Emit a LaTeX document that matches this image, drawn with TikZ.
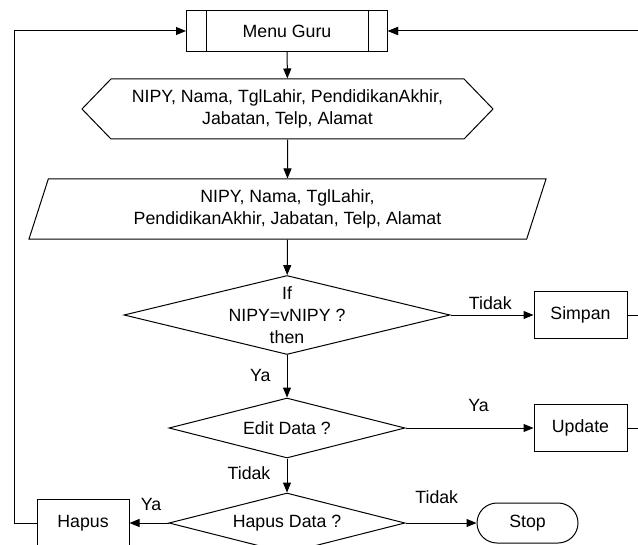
\documentclass[tikz,border=0pt]{standalone}
\usepackage{fontspec}
\setmainfont{Liberation Sans}
\usetikzlibrary{shapes.geometric,shapes.symbols,shapes.misc,arrows.meta}

\begin{document}
\begin{tikzpicture}[x=0.75pt,y=-0.75pt,
  font=\fontsize{13.3}{16.5}\selectfont,
  line width=0.75pt,
  proc/.style={draw, rectangle, inner sep=0pt, minimum width=150.75pt, minimum height=30.75pt},
  prep/.style={draw, signal, signal to=west and east, signal pointer angle=92,
    inner sep=0pt, align=center, minimum width=308.25pt, minimum height=45pt},
  io/.style={draw, trapezium, trapezium left angle=63.4, trapezium right angle=116.6,
    trapezium stretches body, inner sep=0pt, align=center, minimum width=387.75pt, minimum height=45pt},
  decide/.style={draw, diamond, inner sep=0pt},
  task/.style={draw, rectangle, inner sep=0pt, minimum width=69.75pt, minimum height=35pt},
  term/.style={draw, rounded rectangle, inner sep=0pt, minimum width=75.75pt, minimum height=30pt},
  lbl/.style={inner sep=0pt},
  arr/.style={-{Triangle[length=7.5pt,width=6pt]}}]

  \useasboundingbox (0,0) rectangle (638,545);
  \clip (0,0) rectangle (638,545);

  % boxes
  \node[proc] (mg) at (287,31) {Menu Guru};
  \draw ([xshift=15pt]mg.north west) -- ([xshift=15pt]mg.south west);
  \draw ([xshift=-15pt]mg.north east) -- ([xshift=-15pt]mg.south east);

  \node[prep] (hex) at (287.5,109) {NIPY, Nama, TglLahir, PendidikanAkhir,\\Jabatan, Telp, Alamat};
  \node[io] (inp) at (287.5,209) {NIPY, Nama, TglLahir,\\PendidikanAkhir, Jabatan, Telp, Alamat};

  \node[decide, minimum width=244.5pt, minimum height=59.25pt,
    label={[align=center]center:If\\NIPY=vNIPY ?\\then}] (cek) at (287,315) {};
  \node[task] (simpan) at (580.5,315) {Simpan};

  \node[decide, minimum width=177pt, minimum height=45pt,
    label={center:Edit Data ?}] (edit) at (287,428) {};
  \node[task] (update) at (580.5,428) {Update};

  \node[decide, minimum width=177pt, minimum height=45pt,
    label={center:Hapus Data ?}] (hps) at (287,523) {};
  \node[task, minimum width=69pt, minimum height=36pt] (hapus) at (83,523) {Hapus};
  \node[term] (stop) at (527.5,523) {Stop};

  \coordinate (kanan) at (650,31);
  \coordinate (kiri) at (14,31);

  % alur
  \draw[arr] (mg) -- (hex);
  \draw[arr] (hex) -- (inp);
  \draw[arr] (inp) -- (cek);
  \draw[arr] (cek.east) -- node[lbl, pos=0.48, yshift=9pt] {Tidak} (simpan);
  \draw[arr] (cek.south) -- node[lbl, pos=0.48, xshift=-20pt] {Ya} (edit.north);
  \draw[arr] (edit.east) -- node[lbl, pos=0.57, yshift=17pt] {Ya} (update);
  \draw[arr] (edit.south) -- node[lbl, pos=0.43, xshift=-28.5pt] {Tidak} (hps.north);
  \draw[arr] (hps.west) -- node[lbl, pos=0.45, yshift=14pt] {Ya} (hapus);
  \draw[arr] (hps.east) -- node[lbl, pos=0.44, yshift=19.5pt] {Tidak} (stop);

  % kembali ke menu
  \draw[arr] (simpan.east) -| (kanan) -- (mg.east);
  \draw[arr] (update.east) -| (kanan) -- (mg.east);
  \draw[arr] (hapus.west) -| (kiri) -- (mg.west);
\end{tikzpicture}
\end{document}
